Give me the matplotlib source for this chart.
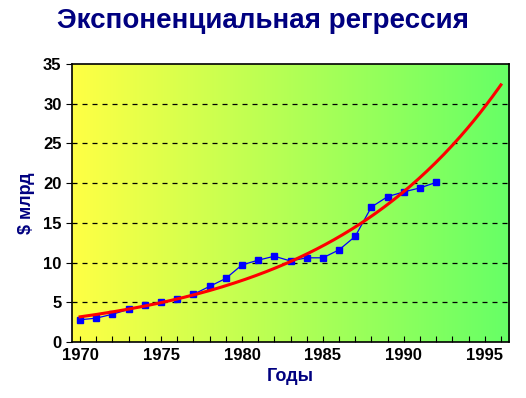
import numpy as np
import matplotlib
matplotlib.use("Agg")
import matplotlib.pyplot as plt
from matplotlib.colors import LinearSegmentedColormap

plt.rcParams['font.family'] = ['Liberation Sans', 'DejaVu Sans']

# data ($ bn per year)
years = [1970, 1971, 1972, 1973, 1974, 1975, 1976, 1977, 1978, 1979, 1980,
         1981, 1982, 1983, 1984, 1985, 1986, 1987, 1988, 1989, 1990, 1991, 1992]
values = [2.8, 3.0, 3.5, 4.1, 4.6, 5.0, 5.4, 6.0, 7.0, 8.0, 9.7,
          10.3, 10.8, 10.2, 10.6, 10.6, 11.6, 13.3, 17.0, 18.3, 18.9, 19.4, 20.1]
forecast_end = 1996
xticks = [1970, 1975, 1980, 1985, 1990, 1995]
yticks = [0, 5, 10, 15, 20, 25, 30, 35]

navy = '#000080'

# exponential trend (least squares on log values), extended as forecast
b, ln_a = np.polyfit(np.array(years) - years[0], np.log(values), 1)
tx = np.linspace(years[0], forecast_end, 200)
ty = np.exp(ln_a) * np.exp(b * (tx - years[0]))

fig = plt.figure(figsize=(5.26, 3.98), dpi=100)
ax = fig.add_axes([72 / 526, 56 / 398, 437 / 526, 278 / 398])

cmap = LinearSegmentedColormap.from_list('yg', ['#ffff44', '#66ff66'])
grad = np.linspace(0, 1, 256).reshape(1, -1)
ax.imshow(grad, cmap=cmap, aspect='auto', extent=[0, 1, 0, 1],
          transform=ax.transAxes, zorder=0)

for y in yticks[1:-1]:
    ax.axhline(y, color='black', lw=0.9, ls=(0, (4, 4)), zorder=1)

ax.plot(years, values, color='#0000ff', lw=0.9, marker='s', ms=4.5,
        mec='#0000ff', mfc='#0000ff', zorder=3)
ax.plot(tx, ty, color='#ff0000', lw=2.2, zorder=4)

ax.set_xlim(1969.5, 1996.5)
ax.set_ylim(0, 35)
ax.set_xticks(xticks)
ax.set_xticks(range(1970, 1997), minor=True)
ax.set_yticks(yticks)
ax.tick_params(axis='x', which='both', direction='in', length=4, width=0.8,
               labelsize=12, pad=4)
ax.tick_params(axis='y', direction='out', length=4, width=0.8, labelsize=12)
for lab in ax.get_xticklabels() + ax.get_yticklabels():
    lab.set_fontweight('bold')

for s in ax.spines.values():
    s.set_linewidth(1.2)
    s.set_color('black')

ax.set_xlabel('Годы', fontsize=13, fontweight='bold', color=navy, labelpad=4)
ax.set_ylabel('$ млрд', fontsize=13, fontweight='bold', color=navy, labelpad=6)
fig.text(0.5, 1 - 21 / 398, 'Экспоненциальная регрессия', ha='center',
         va='center', fontsize=20, fontweight='bold', color=navy)

fig.savefig('out.png', dpi=100)
